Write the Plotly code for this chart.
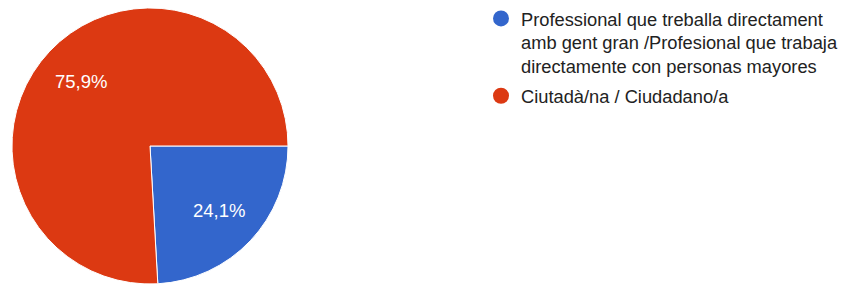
import math
import plotly.graph_objects as go

labels = ["Professional que treballa directament<br>amb gent gran /Profesional que trabaja<br>directamente con personas mayores",
          "Ciutadà/na / Ciudadano/a"]
values = [24.1, 75.9]
pct_text = ["24,1%", "75,9%"]
colors = ["#3366CC", "#DC3912"]

W, H = 847, 286
cx, cy, R = 150, 145, 139
fig = go.Figure()
fig.add_trace(go.Pie(
    labels=labels, values=values, textinfo="none",
    sort=False, direction="clockwise", rotation=90,
    marker=dict(colors=colors, line=dict(color="white", width=1)),
    showlegend=False, hoverinfo="label+percent",
    domain=dict(x=[(cx - R) / W, (cx + R) / W], y=[1 - (cy + R) / H, 1 - (cy - R) / H]),
))
# percentage labels placed at slice mid-angles (derived from values)
total = sum(values)
start = 0.0
for v, t in zip(values, pct_text):
    mid = start + v / total * 360 / 2
    start += v / total * 360
    a = math.radians(mid)
    px = cx + 0.68 * R * math.cos(a)
    py = cy + 0.68 * R * math.sin(a)
    fig.add_annotation(x=px / W, y=1 - py / H, xref="paper", yref="paper",
                       text=t, showarrow=False, xanchor="center", yanchor="middle",
                       font=dict(family="Liberation Sans", size=18.5, color="white"))
for i, (lab, col) in enumerate(zip(labels, colors)):
    fig.add_trace(go.Scatter(x=[None], y=[None], mode="markers", name=lab,
                             legendgroup=f"g{i}",
                             marker=dict(symbol="circle", size=18, color=col)))
fig.update_layout(
    width=W, height=H, margin=dict(l=0, r=0, t=0, b=0),
    paper_bgcolor="white", plot_bgcolor="white",
    xaxis=dict(visible=False), yaxis=dict(visible=False),
    legend=dict(x=481 / W, y=1 + 2 / H, xanchor="left", yanchor="top",
                font=dict(family="Liberation Sans", size=18.3, color="#222222"),
                traceorder="grouped", tracegroupgap=3, valign="top",
                itemsizing="trace", bgcolor="rgba(0,0,0,0)"),
)
fig.write_html("out.html", config={"displayModeBar": False},
               post_script="document.body.style.margin='0';document.body.style.padding='0';")
